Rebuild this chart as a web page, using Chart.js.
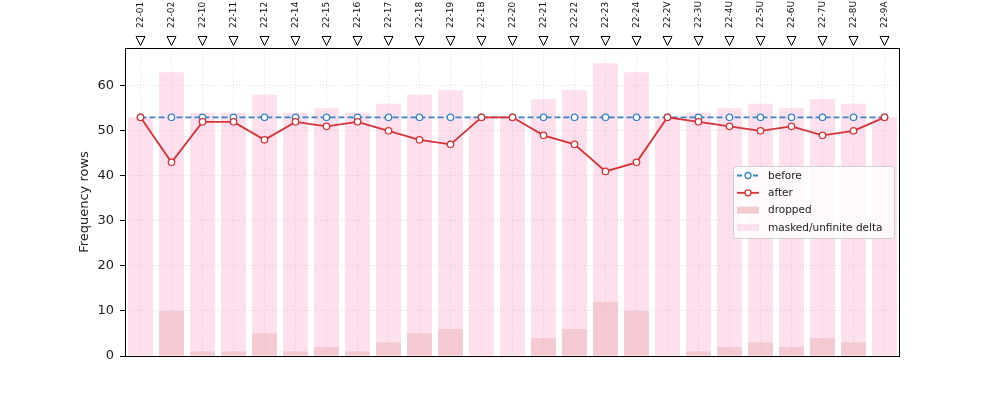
<!DOCTYPE html>
<html lang="en">
<head>
    <meta charset="UTF-8">
    <script src="https://cdn.jsdelivr.net/npm/chart.js"></script>
    <title>Frequency rows</title>
    <style>
        body { margin: 0; background: #fff; }
    </style>
</head>
<body>
    <canvas id="grafico" width="1000" height="400"></canvas>
<script>
    var categorias = ['22-01','22-02','22-10','22-11','22-12','22-14','22-15','22-16','22-17','22-18','22-19','22-1B','22-20',
        '22-21','22-22','22-23','22-24','22-2V','22-3U','22-4U','22-5U','22-6U','22-7U','22-8U','22-9A']
    var antes = [53,53,53,53,53,53,53,53,53,53,53,53,53,53,53,53,53,53,53,53,53,53,53,53,53]
    var depois = [53,43,52,52,48,52,51,52,50,48,47,53,53,49,47,41,43,53,52,51,50,51,49,50,53]
    var descartados = [0,10,1,1,5,1,2,1,3,5,6,0,0,4,6,12,10,0,1,2,3,2,4,3,0]
    var mascarados = [53,63,54,54,58,54,55,54,56,58,59,53,53,57,59,65,63,53,54,55,56,55,57,56,53]
    var ticksY = [0,10,20,30,40,50,60]

    var fonte = 'DejaVu Sans'
    var azul = '#3a86c4'
    var vermelho = '#d93336'
    var rosa = 'rgba(248,150,200,0.3)'
    var rosaEscuro = 'rgba(236,180,180,0.5)'

    // moldura, triangulos do eixo de cima e legenda
    var extras = {
        id: 'extras',
        afterDraw(chart) {
            var ctx = chart.ctx
            var area = chart.chartArea
            var x = chart.scales.x
            ctx.save()
            ctx.strokeStyle = '#000'
            ctx.lineWidth = 1
            ctx.strokeRect(area.left + 0.5, area.top + 0.5, area.right - area.left - 1, area.bottom - area.top)
            // triangulos
            ctx.fillStyle = '#fff'
            ctx.lineWidth = 1
            categorias.forEach((c, i) => {
                var px = x.getPixelForValue(i)
                var y0 = area.top - 11.5
                ctx.beginPath()
                ctx.moveTo(px - 4.5, y0)
                ctx.lineTo(px + 4.5, y0)
                ctx.lineTo(px, y0 + 9)
                ctx.closePath()
                ctx.fill()
                ctx.stroke()
            })
            // legenda
            var w = 161, h = 72
            var lx = area.right - 6 - w
            var ly = (area.top + area.bottom) / 2 - h / 2
            ctx.fillStyle = 'rgba(255,255,255,0.8)'
            ctx.strokeStyle = '#d0d0d0'
            ctx.beginPath()
            ctx.roundRect(lx + 0.5, ly + 0.5, w, h, 3)
            ctx.fill()
            ctx.stroke()
            var itens = [
                {nome: 'before', tipo: 'linha', cor: azul, dash: [5, 3]},
                {nome: 'after', tipo: 'linha', cor: vermelho, dash: []},
                {nome: 'dropped', tipo: 'caixa', cor: 'rgb(243,203,205)'},
                {nome: 'masked/unfinite delta', tipo: 'caixa', cor: 'rgb(253,224,238)'}
            ]
            ctx.font = '10.5px "' + fonte + '"'
            ctx.textBaseline = 'middle'
            itens.forEach((it, i) => {
                var cy = ly + 9.5 + i * 17.3
                var sx = lx + 4
                if (it.tipo == 'linha') {
                    ctx.strokeStyle = it.cor
                    ctx.lineWidth = 1.8
                    ctx.setLineDash(it.dash)
                    ctx.beginPath()
                    ctx.moveTo(sx, cy)
                    ctx.lineTo(sx + 22, cy)
                    ctx.stroke()
                    ctx.setLineDash([])
                    ctx.fillStyle = '#fff'
                    ctx.lineWidth = 1.3
                    ctx.beginPath()
                    ctx.arc(sx + 11, cy, 3, 0, Math.PI * 2)
                    ctx.fill()
                    ctx.stroke()
                } else {
                    ctx.fillStyle = it.cor
                    ctx.fillRect(sx, cy - 3.5, 22, 7)
                }
                ctx.fillStyle = '#222'
                ctx.fillText(it.nome, lx + 35, cy + 0.5)
            })
            ctx.restore()
        }
    }

    var grafico = new Chart(document.getElementById('grafico'), {
        type: 'bar',
        data: {
            labels: categorias,
            datasets: [
                {
                    type: 'line', label: 'after', data: depois,
                    borderColor: vermelho, borderWidth: 1.8,
                    pointRadius: 3.2, pointBorderWidth: 1.3,
                    pointBackgroundColor: '#fff', pointBorderColor: vermelho
                },
                {
                    type: 'line', label: 'before', data: antes,
                    borderColor: azul, borderWidth: 1.8, borderDash: [6, 3],
                    pointRadius: 3.2, pointBorderWidth: 1.3,
                    pointBackgroundColor: '#fff', pointBorderColor: azul
                },
                {
                    label: 'dropped', data: descartados, backgroundColor: rosaEscuro,
                    grouped: false, barPercentage: 0.8, categoryPercentage: 1
                },
                {
                    label: 'masked/unfinite delta', data: mascarados, backgroundColor: rosa,
                    grouped: false, barPercentage: 0.8, categoryPercentage: 1
                }
            ]
        },
        options: {
            responsive: false,
            animation: false,
            layout: { padding: { left: 77, right: 100, top: 0, bottom: 44 } },
            plugins: { legend: { display: false }, tooltip: { enabled: false } },
            scales: {
                x: {
                    position: 'top',
                    offset: true,
                    grid: { color: 'rgba(0,0,0,0.12)', drawTicks: false, offset: false },
                    border: { display: false, dash: [1, 2] },
                    ticks: {
                        autoSkip: false, minRotation: 90, maxRotation: 90, padding: 20, labelOffset: 11,
                        color: '#111', font: { family: fonte, size: 9 }
                    },
                    afterFit(scale) { scale.height = 48 }
                },
                y: {
                    min: 0, max: 68.4,
                    grid: {
                        color: 'rgba(0,0,0,0.12)', tickColor: '#000', tickLength: 5, tickWidth: 1
                    },
                    border: { display: false, dash: [1, 2] },
                    ticks: { stepSize: 10, padding: 6, color: '#222', font: { family: fonte, size: 13 } },
                    afterBuildTicks(scale) { scale.ticks = ticksY.map(v => ({ value: v })) },
                    title: { display: true, text: 'Frequency rows', color: '#222', font: { family: fonte, size: 13 }, padding: 0 },
                    afterFit(scale) { scale.width = 48 }
                }
            }
        },
        plugins: [extras]
    })
</script>
</body>
</html>
